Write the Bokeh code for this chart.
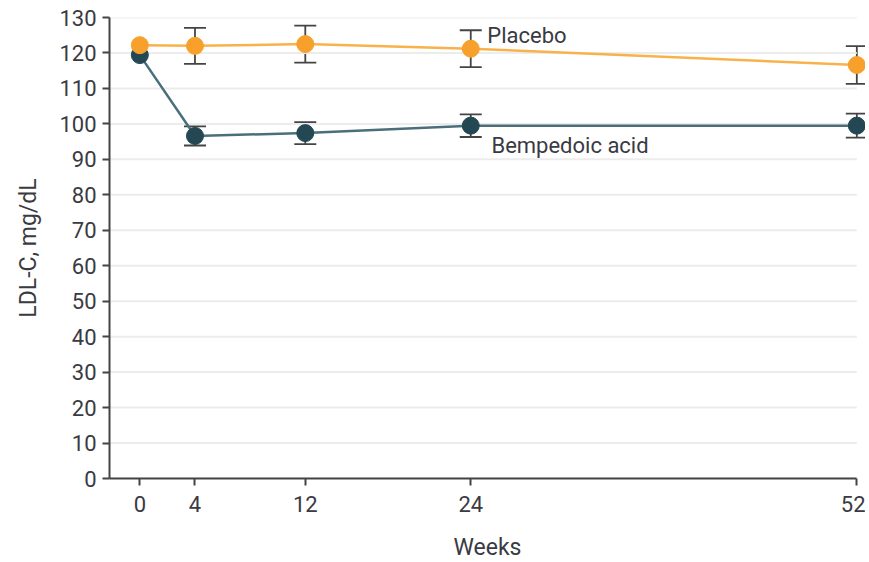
from bokeh.plotting import figure
from bokeh.models import Range1d, FixedTicker, Whisker, ColumnDataSource, Label, TeeHead
from bokeh.embed import file_html
from bokeh.resources import INLINE

weeks = [0, 4, 12, 24, 52]
placebo = [122.2, 122.0, 122.5, 121.2, 116.6]
placebo_err = [0, 5.1, 5.2, 5.2, 5.3]
bempedoic = [119.4, 96.6, 97.4, 99.5, 99.5]
bempedoic_err = [0, 2.7, 3.1, 3.2, 3.4]
y_ticks = list(range(0, 131, 10))

FONT = "Roboto"
TXT = "#3a3a42"
X0 = -2.2

p = figure(frame_width=756, frame_height=461, output_backend="svg", toolbar_location=None,
           x_range=Range1d(X0, 52.63), y_range=Range1d(0, 130),
           min_border_left=109, min_border_right=0, min_border_top=17, min_border_bottom=70)
p.outline_line_color = None
p.xgrid.grid_line_color = None
p.ygrid.grid_line_color = None
p.xaxis.ticker = FixedTicker(ticks=weeks)
p.yaxis.ticker = FixedTicker(ticks=y_ticks)
p.xaxis.bounds = (X0, weeks[-1])
for ax in (p.xaxis[0], p.yaxis[0]):
    ax.axis_line_color = "#444444"
    ax.axis_line_width = 2
    ax.major_tick_line_color = "#444444"
    ax.major_tick_line_width = 2
    ax.major_tick_out = 7
    ax.major_tick_in = 0
    ax.minor_tick_line_color = None
    ax.major_label_text_font = FONT
    ax.major_label_text_font_size = "22px"
    ax.major_label_text_color = TXT
    ax.axis_label_text_font = FONT
    ax.axis_label_text_font_size = "23px"
    ax.axis_label_text_font_style = "normal"
    ax.axis_label_text_color = TXT
p.xaxis.axis_label = "Weeks"
p.yaxis.axis_label = "LDL-C, mg/dL"
p.xaxis.major_label_standoff = 10
p.yaxis.major_label_standoff = 6
p.xaxis.axis_label_standoff = 19
p.yaxis.axis_label_standoff = 14

# horizontal grid lines ending at the last week
p.segment(x0=[X0] * len(y_ticks), x1=[weeks[-1]] * len(y_ticks), y0=y_ticks, y1=y_ticks,
          line_color="#ececec", line_width=2)

def err_src(y, e):
    idx = [i for i in range(len(weeks)) if e[i] > 0]
    return ColumnDataSource(dict(x=[weeks[i] for i in idx],
                                 lo=[y[i] - e[i] for i in idx],
                                 hi=[y[i] + e[i] for i in idx]))

p.line(weeks, bempedoic, line_color="#4a6f7a", line_width=2.5)
p.line(weeks, placebo, line_color="#f9b24a", line_width=2.5)

for y, e in ((placebo, placebo_err), (bempedoic, bempedoic_err)):
    w = Whisker(source=err_src(y, e), base="x", lower="lo", upper="hi",
                line_color="#444444", line_width=1.8,
                lower_head=TeeHead(size=22, line_color="#444444", line_width=1.8),
                upper_head=TeeHead(size=22, line_color="#444444", line_width=1.8))
    p.add_layout(w)

p.scatter(weeks, bempedoic, size=17, fill_color="#234753", line_color="#234753")
p.scatter(weeks, placebo, size=17, fill_color="#f7a12c", line_color="#f7a12c")

p.add_layout(Label(x=25.2, y=124.9, text="Placebo", text_font=FONT, text_font_size="22px",
                   text_color=TXT, text_baseline="middle"))
p.add_layout(Label(x=25.5, y=93.9, text="Bempedoic acid", text_font=FONT, text_font_size="22px",
                   text_color=TXT, text_baseline="middle"))

open("out.html", "w").write(file_html(p, INLINE))
